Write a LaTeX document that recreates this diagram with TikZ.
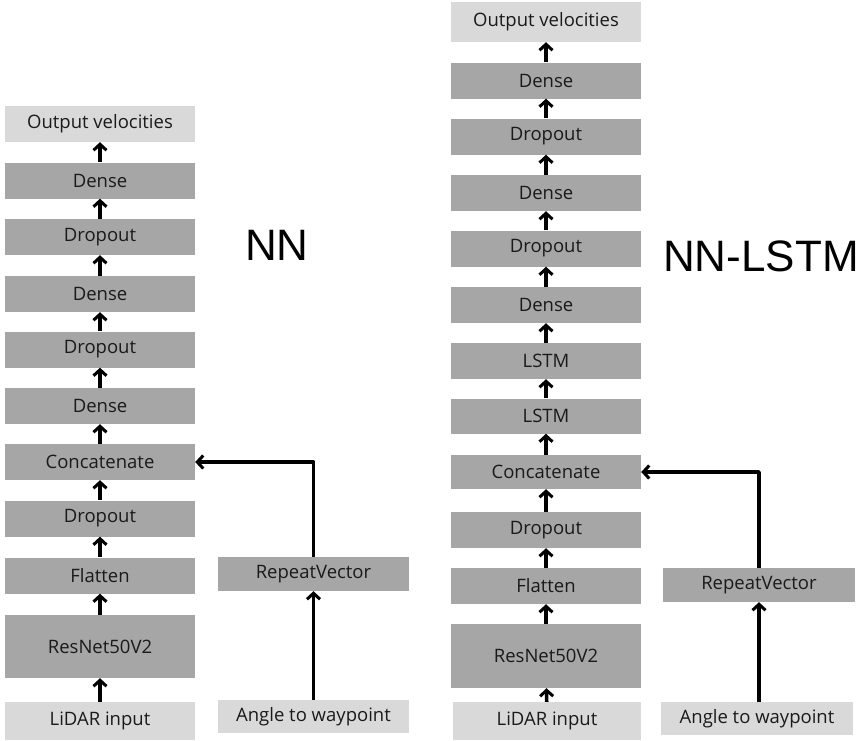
\documentclass[tikz,border=0pt]{standalone}
\usepackage{fontspec}
\setmainfont{Open Sans}
\newfontfamily\titlefont{Liberation Sans}
\usetikzlibrary{arrows.meta}
\definecolor{layergray}{HTML}{A6A6A6}
\definecolor{iogray}{HTML}{D9D9D9}
\definecolor{labelink}{HTML}{1A1A1A}
\begin{document}
\begin{tikzpicture}[x=1pt, y=-1pt, font=\fontsize{18.5}{21}\selectfont, line join=round,
    >={Straight Barb[length=6pt,width=13pt,line width=3pt]},
    layer/.style={fill=layergray, text=labelink, inner sep=0pt, minimum width=190pt, minimum height=36pt},
    io/.style={layer, fill=iogray},
    title/.style={font=\titlefont\fontsize{44}{48}\selectfont},
    flow/.style={->, line width=3.6pt}]
    \useasboundingbox (0,0) rectangle (868,740);
    % NN
    \node[io]    (out)   at (100,124) {Output velocities};
    \node[layer] (d3)    at (100,180.5) {Dense};
    \node[layer] (p3)    at (100,237) {Dropout};
    \node[layer] (d2)    at (100,294) {Dense};
    \node[layer] (p2)    at (100,349.5) {Dropout};
    \node[layer] (d1)    at (100,406) {Dense};
    \node[layer] (cat)   at (100,462) {Concatenate};
    \node[layer] (p1)    at (100,518.5) {Dropout};
    \node[layer] (flat)  at (100,575.5) {Flatten};
    \node[layer, minimum height=63pt] (res) at (100,646.5) {ResNet50V2};
    \node[io, minimum height=38pt] (lidar) at (100,721) {LiDAR input};
    \node[layer, minimum width=191pt, minimum height=34pt] (rep) at (313.5,574) {RepeatVector};
    \node[io, minimum width=191pt, minimum height=33pt] (ang) at (313.5,716.5) {Angle to waypoint};
    \node[title] (nn) at (277,245.5) {NN};
    \draw[flow] (lidar) -- (res);
    \draw[flow] (res) -- (flat);
    \draw[flow] (flat) -- (p1);
    \draw[flow] (p1) -- (cat);
    \draw[flow] (cat) -- (d1);
    \draw[flow] (d1) -- (p2);
    \draw[flow] (p2) -- (d2);
    \draw[flow] (d2) -- (p3);
    \draw[flow] (p3) -- (d3);
    \draw[flow] (d3) -- (out);
    \draw[flow] (ang) -- (rep);
    \draw[flow] (rep.north) |- (cat.east);
    % NN-LSTM
    \node[io, minimum height=40pt] (lout) at (546,22) {Output velocities};
    \node[layer] (ld3)   at (546,80.5) {Dense};
    \node[layer] (lp2)   at (546,136.5) {Dropout};
    \node[layer] (ld2)   at (546,193) {Dense};
    \node[layer] (lp1)   at (546,248.5) {Dropout};
    \node[layer] (ld1)   at (546,305) {Dense};
    \node[layer] (lstb)  at (546,361) {LSTM};
    \node[layer, minimum height=35pt] (lsta) at (546,416) {LSTM};
    \node[layer, minimum height=34pt] (lcat) at (546,472) {Concatenate};
    \node[layer] (lp0)   at (546,530) {Dropout};
    \node[layer] (lflat) at (546,586) {Flatten};
    \node[layer, minimum height=64pt] (lres) at (546,656) {ResNet50V2};
    \node[io, minimum width=188pt, minimum height=38pt] (llidar) at (547,721) {LiDAR input};
    \node[layer, minimum width=192pt, minimum height=34pt] (lrep) at (759,585) {RepeatVector};
    \node[io, minimum width=192pt, minimum height=33pt] (lang) at (757,718.5) {Angle to waypoint};
    \node[title] (nnlstm) at (761,256) {NN-LSTM};
    \draw[flow] (llidar) -- (lres);
    \draw[flow] (lres) -- (lflat);
    \draw[flow] (lflat) -- (lp0);
    \draw[flow] (lp0) -- (lcat);
    \draw[flow] (lcat) -- (lsta);
    \draw[flow] (lsta) -- (lstb);
    \draw[flow] (lstb) -- (ld1);
    \draw[flow] (ld1) -- (lp1);
    \draw[flow] (lp1) -- (ld2);
    \draw[flow] (ld2) -- (lp2);
    \draw[flow] (lp2) -- (ld3);
    \draw[flow] (ld3) -- (lout);
    \draw[flow] (lang.north -| lrep.south) -- (lrep.south);
    \draw[flow] (lrep.north) |- (lcat.east);
\end{tikzpicture}
\end{document}
